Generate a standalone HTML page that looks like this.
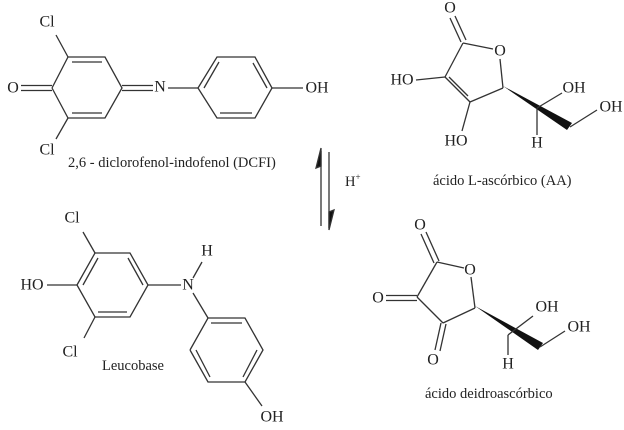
<!DOCTYPE html>
<html><head><meta charset="utf-8"><style>
html,body{margin:0;padding:0;background:#fff;}
svg{display:block;}
text{font-family:"Liberation Serif",serif;fill:#222;}
.a{font-size:16px;text-anchor:middle;dominant-baseline:central;}
.c{font-size:14.5px;}
</style></head><body>
<svg width="624" height="430" viewBox="0 0 624 430" xmlns="http://www.w3.org/2000/svg">
<g stroke="#333" stroke-width="1.3" fill="none">
<polyline points="52,88 68,57 105,57 122,88 105,118 68,118 52,88"/>
<line x1="72" y1="62" x2="102" y2="62"/>
<line x1="72" y1="113" x2="102" y2="113"/>
<line x1="68" y1="57" x2="56" y2="35"/>
<line x1="68" y1="118" x2="56" y2="139"/>
<line x1="21" y1="85.5" x2="52" y2="85.5"/><line x1="21" y1="90.5" x2="52" y2="90.5"/>
<line x1="122" y1="85.5" x2="153" y2="85.5"/><line x1="122" y1="90.5" x2="153" y2="90.5"/>
<line x1="168" y1="88" x2="198" y2="88"/>
<polyline points="198,88 217,57 255,57 272,88 255,118 217,118 198,88"/>
<line x1="204" y1="88" x2="219" y2="62"/>
<line x1="220" y1="113" x2="252" y2="113"/>
<line x1="267" y1="88" x2="253" y2="63"/>
<line x1="272" y1="88" x2="303" y2="88"/>
<line x1="321" y1="151" x2="321" y2="226"/>
<polygon points="321,148 321,166 316,168" fill="#111"/>
<line x1="329" y1="152" x2="329" y2="228"/>
<polygon points="329,230 329,212 334,210" fill="#111"/>
<line x1="450" y1="18" x2="461" y2="42"/><line x1="455" y1="16" x2="466" y2="40"/>
<line x1="463" y1="43" x2="493" y2="49"/>
<line x1="500" y1="59" x2="503" y2="88"/>
<line x1="503" y1="88" x2="470" y2="102"/>
<line x1="470" y1="102" x2="445" y2="77"/>
<line x1="468" y1="96" x2="449" y2="77"/>
<line x1="445" y1="77" x2="463" y2="43"/>
<line x1="445" y1="77" x2="416" y2="80"/>
<line x1="470" y1="102" x2="462" y2="131"/>
<polygon points="503,86 572,123 567,130" fill="#111" stroke="none"/>
<line x1="537" y1="108" x2="537" y2="135"/>
<line x1="537" y1="108" x2="562" y2="93"/>
<line x1="570" y1="127" x2="597" y2="110"/>
<polyline points="77,285 95,253 130,253 148,285 130,317 95,317 77,285"/>
<line x1="83" y1="285" x2="98" y2="258"/>
<line x1="143" y1="285" x2="128" y2="258"/>
<line x1="98" y1="312" x2="127" y2="312"/>
<line x1="95" y1="253" x2="83" y2="232"/>
<line x1="95" y1="317" x2="84" y2="338"/>
<line x1="47" y1="285" x2="77" y2="285"/>
<line x1="148" y1="285" x2="181" y2="285"/>
<line x1="193" y1="278" x2="202" y2="262"/>
<line x1="193" y1="293" x2="208" y2="318"/>
<polyline points="190,350 208,318 245,318 263,350 245,382 208,382 190,350"/>
<line x1="211" y1="323" x2="242" y2="323"/>
<line x1="196" y1="350" x2="210" y2="377"/>
<line x1="257" y1="350" x2="243" y2="377"/>
<line x1="245" y1="382" x2="262" y2="406"/>
<line x1="421" y1="234" x2="434" y2="263"/><line x1="426" y1="232" x2="439" y2="261"/>
<line x1="437" y1="262" x2="464" y2="268"/>
<line x1="471" y1="277" x2="475" y2="308"/>
<line x1="475" y1="308" x2="443" y2="323"/>
<line x1="443" y1="323" x2="417" y2="297"/>
<line x1="417" y1="297" x2="437" y2="262"/>
<line x1="386" y1="295.5" x2="417" y2="295.5"/><line x1="386" y1="300.5" x2="417" y2="300.5"/>
<line x1="441" y1="323" x2="435" y2="350"/><line x1="446" y1="324" x2="440" y2="351"/>
<polygon points="475,306 543,343 538,350" fill="#111" stroke="none"/>
<line x1="508" y1="335" x2="508" y2="355"/>
<line x1="508" y1="335" x2="533" y2="316"/>
<line x1="540" y1="347" x2="565" y2="331"/>
</g>
<text class="a" x="47" y="22">Cl</text>
<text class="a" x="47" y="150">Cl</text>
<text class="a" x="13" y="88">O</text>
<text class="a" x="160" y="87">N</text>
<text class="a" x="317" y="88">OH</text>
<text class="c" x="68" y="167">2,6 - diclorofenol-indofenol (DCFI)</text>
<text class="c" x="345" y="186">H<tspan font-size="9" dy="-6">+</tspan></text>
<text class="a" x="450" y="8">O</text>
<text class="a" x="500" y="51">O</text>
<text class="a" x="402" y="80">HO</text>
<text class="a" x="456" y="141">HO</text>
<text class="a" x="574" y="88">OH</text>
<text class="a" x="611" y="107">OH</text>
<text class="a" x="537" y="143">H</text>
<text class="c" x="433" y="185">ácido L-ascórbico (AA)</text>
<text class="a" x="72" y="218">Cl</text>
<text class="a" x="32" y="285">HO</text>
<text class="a" x="70" y="352">Cl</text>
<text class="a" x="188" y="285">N</text>
<text class="a" x="207" y="251">H</text>
<text class="a" x="272" y="417">OH</text>
<text class="c" x="102" y="370">Leucobase</text>
<text class="a" x="420" y="225">O</text>
<text class="a" x="470" y="270">O</text>
<text class="a" x="378" y="298">O</text>
<text class="a" x="433" y="360">O</text>
<text class="a" x="547" y="307">OH</text>
<text class="a" x="579" y="327">OH</text>
<text class="a" x="508" y="364">H</text>
<text class="c" x="425" y="398">ácido deidroascórbico</text>
</svg>
</body></html>
